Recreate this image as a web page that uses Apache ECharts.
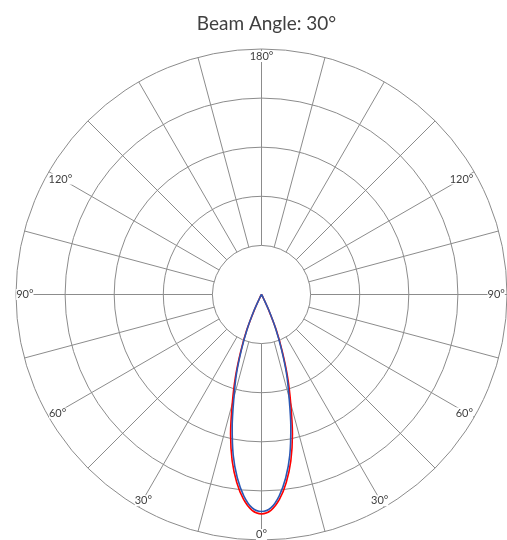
<!DOCTYPE html>
<html><head><meta charset="utf-8">
<script src="https://cdn.jsdelivr.net/npm/echarts@6/dist/echarts.min.js"></script>
<style>html,body{margin:0;padding:0;background:#fff}#c{width:507px;height:540px}</style>
</head><body><div id="c"></div>
<script>
// ---- data ----
const titleText = 'Beam Angle: 30°';
// polar angle (0 = straight down, clockwise) for each sample
const anglesDeg = [330, 332.5, 335, 337.5, 340, 342.5, 345, 347.5, 350, 352.5, 355, 357.5,
                   0, 2.5, 5, 7.5, 10, 12.5, 15, 17.5, 20, 22.5, 25, 27.5, 30];
// relative intensity (outer ring = 500)
const redValues  = [0, 6, 32, 79, 124, 177, 230, 291, 344, 386, 419, 440,
                    447, 440, 419, 386, 344, 291, 230, 177, 124, 79, 32, 6, 0];
const blueValues = [0, 8, 35, 76, 119, 170, 217, 276, 332, 377, 412, 435,
                    442, 435, 412, 377, 332, 276, 217, 170, 119, 76, 35, 8, 0];
// angle tick labels
const labelAngles = [0, 30, 60, 90, 120, 180, 240, 270, 300, 330];
const labelTexts  = ['0°', '30°', '60°', '90°', '120°', '180°', '120°', '90°', '60°', '30°'];

// ---- styling / layout ----
const CENTER = [261.5, 294.5];
const R = 245.5;
const GRID = '#8c8c8c';
const TXT = '#404040';
const FONT = 'Lato';
// spacer sizes that nudge each label inward onto the rim (style only)
const labelOffset = {
  0: {w: 0, v: 19}, 30: {w: 2, v: 14}, 60: {w: 9, v: 5}, 90: {w: 13, v: 0},
  120: {w: 3, v: 2}, 180: {w: 0, v: 17}, 240: {w: 2, v: 2}, 270: {w: 11, v: 0},
  300: {w: 8, v: 5}, 330: {w: 2, v: 14}
};
const rich = { t: {fontFamily: FONT, fontSize: 11, color: TXT, backgroundColor: '#fff', lineHeight: 12} };
Object.values(labelOffset).forEach(o => {
  if (o.w) rich['w' + o.w] = {width: o.w, height: 12, lineHeight: 12};
  if (o.v) rich['v' + o.v] = {width: 0, height: o.v, lineHeight: o.v};
});
function fmt(value) {
  const i = labelAngles.indexOf(value);
  if (i < 0) return '';
  const off = labelOffset[value] || {w: 0, v: 0};
  let line = '{t|' + labelTexts[i] + '}';
  const leftSide = value > 0 && value < 180;
  if (off.w) line = leftSide ? line + '{w' + off.w + '|}' : '{w' + off.w + '|}' + line;
  if (off.v) {
    const below = value < 90 || value > 270;
    line = below ? '{v' + off.v + '|}\n' + line : line + '\n{v' + off.v + '|}';
  }
  return line;
}

const hiddenAxis = {axisLine: {show: false}, axisTick: {show: false}, axisLabel: {show: false}, splitLine: {show: false}};

const chart = echarts.init(document.getElementById('c'), null, {renderer: 'canvas'});
chart.setOption({
  animation: false,
  backgroundColor: '#fff',
  title: {
    text: titleText, left: CENTER[0], top: 9, textAlign: 'center',
    textStyle: {fontFamily: FONT, fontSize: 19, fontWeight: 'normal', color: TXT}
  },
  polar: [
    {center: CENTER, radius: [R / 5, R]},
    {center: CENTER, radius: [0, R]},
    {center: CENTER, radius: [0, R]}
  ],
  angleAxis: [
    Object.assign({}, hiddenAxis, {
      polarIndex: 0, type: 'value', min: 0, max: 360, interval: 15, startAngle: -90, clockwise: true,
      splitLine: {show: true, lineStyle: {color: GRID, width: 1}}
    }),
    Object.assign({}, hiddenAxis, {
      polarIndex: 1, type: 'value', min: 0, max: 360, interval: 30, startAngle: -90, clockwise: true
    }),
    Object.assign({}, hiddenAxis, {
      polarIndex: 2, type: 'value', min: 0, max: 360, interval: 30, startAngle: -90, clockwise: true, z: 10,
      axisLabel: {show: true, margin: -30.5, formatter: fmt, rich: rich}
    })
  ],
  radiusAxis: [
    Object.assign({}, hiddenAxis, {
      polarIndex: 0, type: 'value', min: 0, max: 4, interval: 1,
      splitLine: {show: true, lineStyle: {color: GRID, width: 1}}
    }),
    Object.assign({}, hiddenAxis, {polarIndex: 1, type: 'value', min: 0, max: 500}),
    Object.assign({}, hiddenAxis, {polarIndex: 2, type: 'value', min: 0, max: 500})
  ],
  series: [
    {
      type: 'line', coordinateSystem: 'polar', polarIndex: 1, name: 'C0-C180',
      data: anglesDeg.map((a, i) => [redValues[i], a]),
      smooth: 0.3, symbol: 'none', lineStyle: {color: '#ff0000', width: 1.6}, z: 3
    },
    {
      type: 'line', coordinateSystem: 'polar', polarIndex: 1, name: 'C90-C270',
      data: anglesDeg.map((a, i) => [blueValues[i], a]),
      smooth: 0.3, symbol: 'none', lineStyle: {color: '#2a58b4', width: 1.6}, z: 4
    }
  ]
});
</script>
</body></html>
